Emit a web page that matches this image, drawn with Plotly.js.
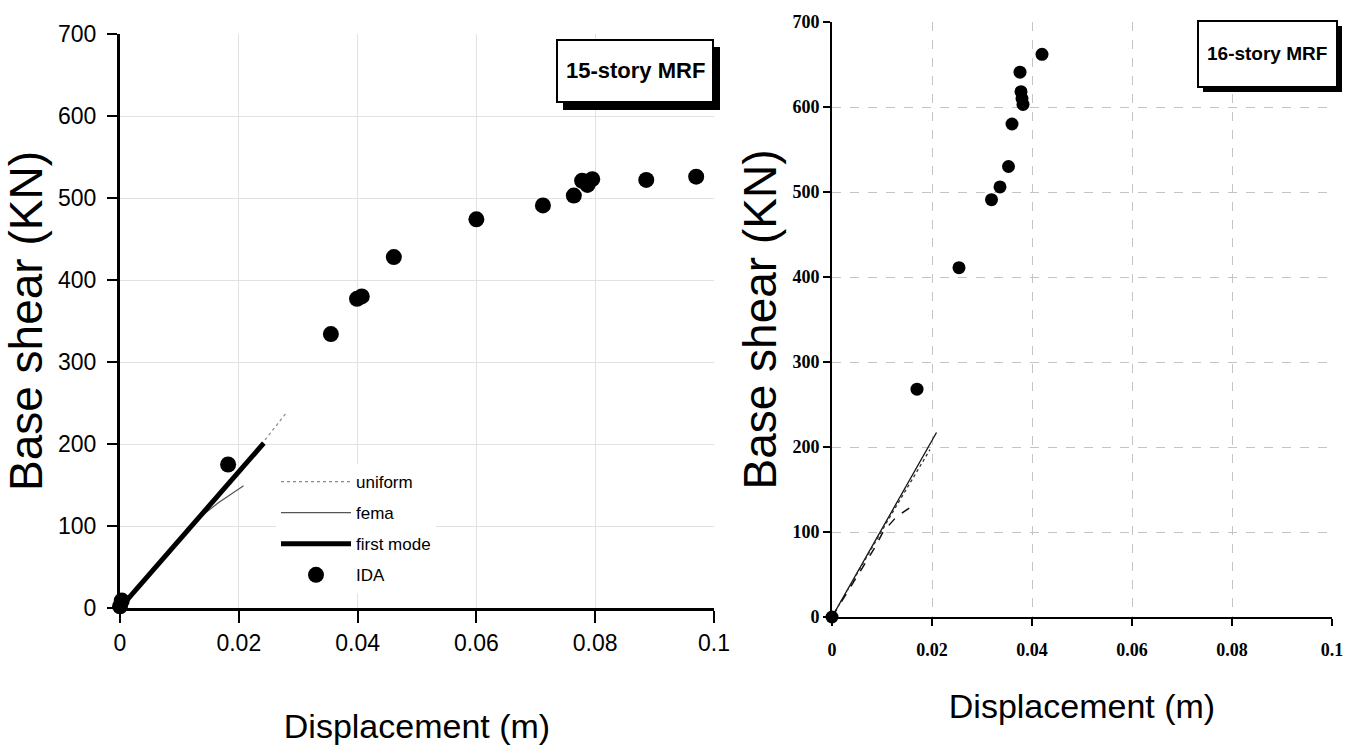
<!DOCTYPE html>
<html>
<head>
<meta charset="utf-8">
<script src="https://cdn.plot.ly/plotly-3.0.1.min.js"></script>
<style>
html,body{margin:0;padding:0;background:#fff;}
#chart{width:1353px;height:755px;}
</style>
</head>
<body>
<div id="chart"></div>
<script>
// ---------- 15-story MRF (left panel) ----------
const uniformX = [0, 0.0242, 0.0280];
const uniformY = [0, 203, 238];
const femaX = [0, 0.0123, 0.0165, 0.0208];
const femaY = [0, 104, 128, 149];
const firstModeX = [0, 0.0242];
const firstModeY = [0, 201];
const ida15X = [0, 0.0003, 0.0182, 0.0355, 0.0399, 0.0407, 0.0461, 0.0600, 0.0712, 0.0764, 0.0778, 0.0787, 0.0795, 0.0886, 0.0970];
const ida15Y = [2, 9, 175, 334, 377, 380, 428, 474, 491, 503, 521, 516, 523, 522, 526];

// ---------- 16-story MRF (right panel) ----------
const line16AX = [0, 0.0209];
const line16AY = [0, 217];
const line16BX = [0, 0.0120, 0.0196];
const line16BY = [0, 122, 197];
const line16CX = [0, 0.0086, 0.0102, 0.0129, 0.0159];
const line16CY = [0, 82, 100, 118, 130];
const ida16X = [0, 0.0170, 0.0254, 0.0319, 0.0336, 0.0353, 0.0360, 0.0376, 0.0378, 0.0380, 0.0382, 0.0420];
const ida16Y = [0, 268, 411, 491, 506, 530, 580, 641, 618, 610, 603, 662];

// labels
const legendNames = ['uniform', 'fema', 'first mode', 'IDA'];
const panelTitles = ['15-story MRF', '16-story MRF'];
const xTitle = 'Displacement (m)';
const yTitle = 'Base shear (KN)';

const W = 1353, H = 755;
const px = v => v / W;
const py = v => 1 - v / H;

const sans = 'Liberation Sans, Arial, sans-serif';
const serif = 'Liberation Serif, Times New Roman, serif';

const traces = [
  {x: uniformX, y: uniformY, name: legendNames[0], mode: 'lines', xaxis: 'x', yaxis: 'y',
   line: {color: '#8a8a8a', width: 1.2, dash: 'dot'}, legendgroup: 'a'},
  {x: femaX, y: femaY, name: legendNames[1], mode: 'lines', xaxis: 'x', yaxis: 'y',
   line: {color: '#555555', width: 1.2}, legendgroup: 'b'},
  {x: firstModeX, y: firstModeY, name: legendNames[2], mode: 'lines', xaxis: 'x', yaxis: 'y',
   line: {color: '#000000', width: 5}, legendgroup: 'c'},
  {x: ida15X, y: ida15Y, name: legendNames[3], mode: 'markers', xaxis: 'x', yaxis: 'y',
   marker: {color: '#000', size: 16, symbol: 'circle'}, cliponaxis: false, legendgroup: 'd'},
  {x: line16AX, y: line16AY, mode: 'lines', xaxis: 'x2', yaxis: 'y2', showlegend: false,
   line: {color: '#111', width: 1.3}},
  {x: line16BX, y: line16BY, mode: 'lines', xaxis: 'x2', yaxis: 'y2', showlegend: false,
   line: {color: '#333', width: 1.3, dash: 'dot'}},
  {x: line16CX, y: line16CY, mode: 'lines', xaxis: 'x2', yaxis: 'y2', showlegend: false,
   line: {color: '#111', width: 1.5, dash: 'dash'}},
  {x: ida16X, y: ida16Y, mode: 'markers', xaxis: 'x2', yaxis: 'y2', showlegend: false,
   marker: {color: '#000', size: 13, symbol: 'circle'}, cliponaxis: false}
];

const layout = {
  width: W, height: H,
  margin: {l: 0, r: 0, t: 0, b: 0},
  paper_bgcolor: '#fff', plot_bgcolor: '#fff',
  showlegend: true,
  legend: {
    x: px(276), y: py(464), xanchor: 'left', yanchor: 'top',
    bgcolor: 'rgba(255,255,255,1)', borderwidth: 0,
    font: {family: sans, size: 17, color: '#000'},
    itemwidth: 70, tracegroupgap: 6, traceorder: 'grouped'
  },
  xaxis: {
    domain: [px(120), px(714)], anchor: 'y',
    range: [0, 0.1], dtick: 0.02, tick0: 0,
    showgrid: true, gridcolor: '#e2e2e2', gridwidth: 1,
    zeroline: false, showline: true, linecolor: '#000', linewidth: 3,
    ticks: 'outside', ticklen: 12, tickwidth: 2, tickcolor: '#000',
    tickfont: {family: sans, size: 23, color: '#000'},
    title: {text: xTitle, font: {family: sans, size: 34, color: '#000'}, standoff: 60}
  },
  yaxis: {
    domain: [py(608), py(34)], anchor: 'x',
    range: [0, 700], dtick: 100, tick0: 0,
    showgrid: true, gridcolor: '#e2e2e2', gridwidth: 1,
    zeroline: false, showline: true, linecolor: '#000', linewidth: 3,
    ticks: 'outside', ticklen: 10, tickwidth: 2, tickcolor: '#000',
    ticklabelstandoff: 6,
    tickfont: {family: sans, size: 23, color: '#000'},
    title: {text: yTitle, font: {family: sans, size: 46, color: '#000'}, standoff: 20}
  },
  xaxis2: {
    domain: [px(832), px(1332)], anchor: 'y2',
    range: [0, 0.1], dtick: 0.02, tick0: 0,
    showgrid: true, gridcolor: '#c4c4c4', gridwidth: 1, griddash: 'dash',
    zeroline: false, showline: true, linecolor: '#000', linewidth: 2,
    ticks: 'outside', ticklen: 7, tickwidth: 1.5, tickcolor: '#000',
    ticklabelstandoff: 8,
    tickfont: {family: serif, size: 18, color: '#000', weight: 'bold'},
    title: {text: xTitle, font: {family: sans, size: 34, color: '#000'}, standoff: 36}
  },
  yaxis2: {
    domain: [py(617), py(22)], anchor: 'x2',
    range: [0, 700], dtick: 100, tick0: 0,
    showgrid: true, gridcolor: '#c4c4c4', gridwidth: 1, griddash: 'dash',
    zeroline: false, showline: true, linecolor: '#000', linewidth: 2,
    ticks: 'outside', ticklen: 7, tickwidth: 1.5, tickcolor: '#000',
    tickfont: {family: serif, size: 18, color: '#000', weight: 'bold'},
    title: {text: yTitle, font: {family: sans, size: 46, color: '#000'}, standoff: 1}
  },
  shapes: [
    {type: 'rect', xref: 'paper', yref: 'paper', layer: 'above',
     x0: px(563), x1: px(720), y0: py(110), y1: py(47), fillcolor: '#000', line: {width: 0}},
    {type: 'rect', xref: 'paper', yref: 'paper', layer: 'above',
     x0: px(557), x1: px(713), y0: py(102), y1: py(40), fillcolor: '#fff', line: {color: '#000', width: 2}},
    {type: 'rect', xref: 'paper', yref: 'paper', layer: 'above',
     x0: px(1203), x1: px(1342), y0: py(92), y1: py(26), fillcolor: '#000', line: {width: 0}},
    {type: 'rect', xref: 'paper', yref: 'paper', layer: 'above',
     x0: px(1198), x1: px(1337), y0: py(87), y1: py(21), fillcolor: '#fff', line: {color: '#000', width: 2}}
  ],
  annotations: [
    {text: panelTitles[0], xref: 'paper', yref: 'paper', x: px(635), y: py(71),
     xanchor: 'center', yanchor: 'middle', showarrow: false,
     font: {family: sans, size: 22, color: '#000', weight: 'bold'}},
    {text: panelTitles[1], xref: 'paper', yref: 'paper', x: px(1267), y: py(54),
     xanchor: 'center', yanchor: 'middle', showarrow: false,
     font: {family: sans, size: 19, color: '#000', weight: 'bold'}}
  ]
};

Plotly.newPlot('chart', traces, layout, {displayModeBar: false, staticPlot: true});
</script>
</body>
</html>
